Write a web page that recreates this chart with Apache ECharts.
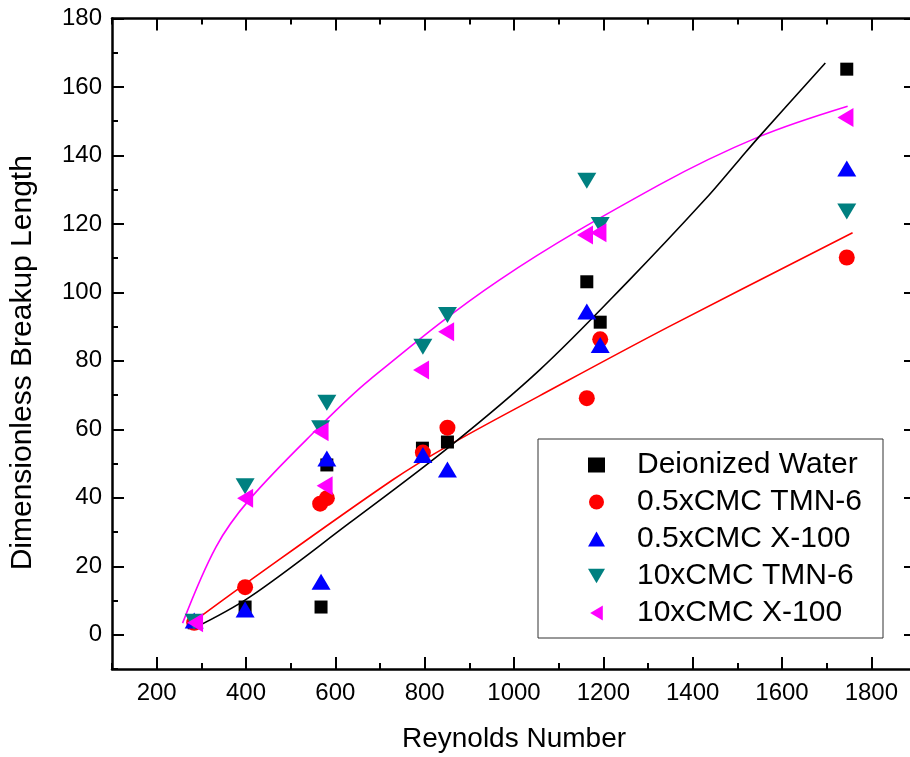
<!DOCTYPE html>
<html>
<head>
<meta charset="utf-8">
<script src="https://cdn.jsdelivr.net/npm/echarts@6/dist/echarts.min.js"></script>
<style>
html,body{margin:0;padding:0;background:#fff;}
#chart{width:910px;height:757px;}
</style>
</head>
<body>
<div id="chart"></div>
<script>
// ---- tick labels ----
const xMajorTicks = [200, 400, 600, 800, 1000, 1200, 1400, 1600, 1800];
const xMinorTicks = [100, 300, 500, 700, 900, 1100, 1300, 1500, 1700, 1900];
const yMajorTicks = [0, 20, 40, 60, 80, 100, 120, 140, 160, 180];
const yMinorTicks = [-10, 10, 30, 50, 70, 90, 110, 130, 150, 170];

// ---- series names ----
const seriesNames = ['Deionized Water', '0.5xCMC TMN-6', '0.5xCMC X-100', '10xCMC TMN-6', '10xCMC X-100'];

// ---- measured points ----
const waterX = [284, 398, 568, 581, 795, 851, 1163, 1193, 1745];
const waterY = [3.5, 8.1, 8.1, 49.6, 54.5, 56.3, 103.1, 91.3, 165.2];

const tmn05X = [284, 398, 566, 581, 796, 851, 1163, 1193, 1745];
const tmn05Y = [3.5, 13.9, 38.3, 39.9, 53.2, 60.5, 69.1, 86.3, 110.2];

const x100_05X = [284, 398, 568, 581, 796, 851, 1163, 1193, 1745];
const x100_05Y = [4.2, 7.4, 15.5, 51.5, 52.5, 48.3, 94.4, 84.6, 136.2];

const tmn10X = [284, 398, 567, 581, 796, 851, 1163, 1193, 1745];
const tmn10Y = [3.8, 43.4, 60.3, 67.8, 84.1, 93.4, 132.6, 119.7, 123.6];

const x100_10X = [286, 398, 567, 576, 792, 848, 1159, 1189, 1742];
const x100_10Y = [3.5, 39.9, 59.3, 43.5, 77.3, 88.5, 116.8, 117.4, 151.1];

// ---- fitted curves ----
const fitWaterX = [283, 408, 631, 855, 1057, 1258, 1426, 1504, 1549, 1697];
const fitWaterY = [1.9, 11, 32.6, 54.9, 77.3, 103.6, 126.9, 138.7, 145.5, 167];

const fitTmn05X = [273, 400, 728, 855, 1056, 1347, 1758];
const fitTmn05Y = [2.9, 15, 45.2, 55.4, 69.7, 90, 117.4];

const fitX100_10X = [258, 333, 407, 557, 676, 967, 1325, 1549, 1747];
const fitX100_10Y = [3.4, 25.7, 39.4, 59.8, 74.4, 103.6, 131.4, 145.5, 154.4];

const FONT = "'Liberation Sans', Arial, Helvetica, sans-serif";
const zip = (xs, ys) => xs.map((x, i) => [x, ys[i]]);
const plain = v => String(v);

const X_MIN = 100, X_MAX = 1900, Y_MIN = -10, Y_MAX = 180;

function xAx(position, values, len, labels, extra) {
  return Object.assign({
    type: 'value', min: X_MIN, max: X_MAX, interval: 100, position: position,
    axisLine: { show: true, onZero: false, lineStyle: { color: '#000', width: 2.5 } },
    axisTick: { show: true, inside: true, length: len, customValues: values, lineStyle: { color: '#000', width: 2 } },
    axisLabel: labels ? { show: true, customValues: values, formatter: plain, fontSize: 24, margin: 12, color: '#000', fontFamily: FONT } : { show: false },
    splitLine: { show: false }
  }, extra || {});
}
function yAx(position, values, len, labels, extra) {
  return Object.assign({
    type: 'value', min: Y_MIN, max: Y_MAX, interval: 10, position: position,
    axisLine: { show: true, onZero: false, lineStyle: { color: '#000', width: 2.5 } },
    axisTick: { show: true, inside: true, length: len, customValues: values, lineStyle: { color: '#000', width: 2 } },
    axisLabel: labels ? { show: true, customValues: values, formatter: plain, fontSize: 24, margin: 10, color: '#000', fontFamily: FONT } : { show: false },
    splitLine: { show: false }
  }, extra || {});
}

const scatterDefs = [
  { x: waterX, y: waterY, color: '#000000', symbol: 'rect', size: 13, rot: 0 },
  { x: tmn05X, y: tmn05Y, color: '#ff0000', symbol: 'circle', size: 16, rot: 0 },
  { x: x100_05X, y: x100_05Y, color: '#0000ff', symbol: 'triangle', size: [19, 16], rot: 0 },
  { x: tmn10X, y: tmn10Y, color: '#008080', symbol: 'triangle', size: [19, 16], rot: 180 },
  { x: x100_10X, y: x100_10Y, color: '#ff00ff', symbol: 'triangle', size: [19, 16], rot: 90 }
];
const legendIcons = ['rect', 'circle', 'triangle', 'path://M0,0 L19,0 L9.5,16 Z', 'path://M16,0 L16,19 L0,9.5 Z'];

const series = [];
[[fitX100_10X, fitX100_10Y, '#ff00ff'], [fitTmn05X, fitTmn05Y, '#ff0000'], [fitWaterX, fitWaterY, '#000000']].forEach(function (f) {
  series.push({
    type: 'line', data: zip(f[0], f[1]), smooth: 0.35, showSymbol: false, silent: true,
    lineStyle: { color: f[2], width: 1.6 }, z: 1
  });
});
scatterDefs.forEach(function (d, i) {
  series.push({
    type: 'scatter', name: seriesNames[i], data: zip(d.x, d.y),
    symbol: d.symbol, symbolSize: d.size, symbolRotate: d.rot, symbolKeepAspect: true,
    itemStyle: { color: d.color, opacity: 1 }, z: 2 + i
  });
});

const chart = echarts.init(document.getElementById('chart'), null, { renderer: 'canvas' });
chart.setOption({
  animation: false,
  backgroundColor: '#ffffff',
  grid: { left: 112, top: 18.5, right: -6, bottom: 88, containLabel: false, outerBoundsMode: 'none' },
  xAxis: [
    xAx('bottom', xMajorTicks, 12, true, {
      name: 'Reynolds Number', nameLocation: 'middle', nameGap: 56,
      nameTextStyle: { fontSize: 28, color: '#000', fontFamily: FONT }
    }),
    xAx('bottom', xMinorTicks, 6, false, { axisLine: { show: false, onZero: false } }),
    xAx('top', xMajorTicks, 12, false),
    xAx('top', xMinorTicks, 6, false, { axisLine: { show: false, onZero: false } })
  ],
  yAxis: [
    yAx('left', yMajorTicks, 12, true, {
      name: 'Dimensionless Breakup Length', nameLocation: 'middle', nameGap: 74, nameRotate: 90,
      nameTextStyle: { fontSize: 30, color: '#000', fontFamily: FONT, padding: [0, 38, 0, 0] }
    }),
    yAx('left', yMinorTicks, 6, false, { axisLine: { show: false, onZero: false } }),
    yAx('right', yMajorTicks, 12, false),
    yAx('right', yMinorTicks, 6, false, { axisLine: { show: false, onZero: false } })
  ],
  legend: {
    orient: 'vertical', left: 538, top: 439,
    padding: [11, 21, 10, 50], itemGap: 7, itemWidth: 17, itemHeight: 15,
    borderColor: '#333', borderWidth: 1, backgroundColor: '#fff',
    textStyle: { fontSize: 30, lineHeight: 30, color: '#000', fontFamily: FONT, padding: [0, 0, 0, 27] },
    data: seriesNames.map((n, i) => ({ name: n, icon: legendIcons[i] })), selectedMode: false
  },
  series: series
});
</script>
</body>
</html>
